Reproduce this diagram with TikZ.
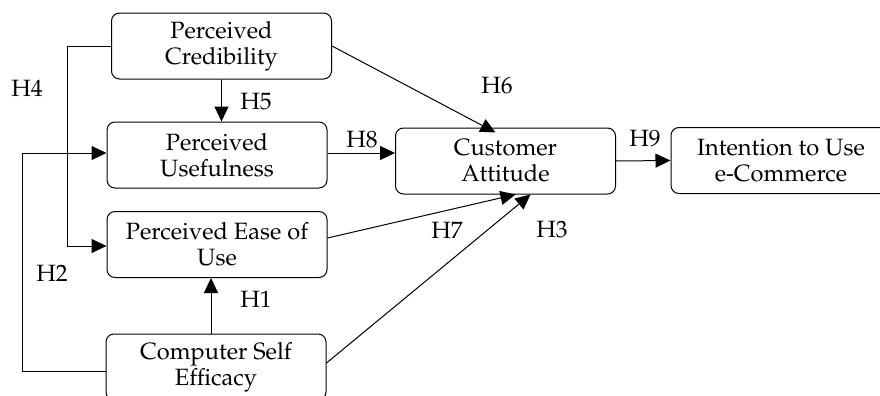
\documentclass[tikz,border=0pt]{standalone}
\usepackage[T1]{fontenc}
\usepackage{mathpazo}
\usetikzlibrary{arrows.meta}

\begin{document}
\begin{tikzpicture}[x=0.5pt,y=0.5pt,yscale=-1,xscale=1,
  box/.style={draw,rounded corners=4pt,line width=0.5pt,minimum width=110pt,minimum height=33pt,align=center,inner sep=1pt,font=\fontsize{11.8}{13}\selectfont},
  arr/.style={line width=0.5pt,-{Triangle[length=7.5pt,width=7pt]}},
  hlab/.style={inner sep=0pt,font=\fontsize{11.8}{13}\selectfont}]
\path[use as bounding box] (0,0) rectangle (880,396);

%Shape: Boxes
\node[box] (pc) at (221.5,46) {Perceived\\Credibility};
\node[box] (pu) at (217,155) {Perceived\\Usefulness};
\node[box] (poe) at (217,244.5) {Perceived Ease of\\Use};
\node[box] (cse) at (216,367) {Computer Self\\Efficacy};
\node[box] (att) at (505.5,161) {Customer\\Attitude};
\node[box] (itu) at (781,160.5) {Intention to Use\\e-Commerce};

%Straight Lines
\coordinate (h4) at (67,0);
\coordinate (h2) at (22,0);
\draw[arr] (pc.west) -- (pc.west -| h4) |- ([yshift=0.75pt]poe.west);
\draw[arr] ([yshift=2pt]cse.west) -- ([yshift=2pt]cse.west -| h2) |- ([yshift=-1pt]pu.west);
\draw[arr] (pc.south) -- (pc.south |- pu.north);
\draw[arr] ([xshift=-2.5pt]cse.north) -- ([xshift=-2.5pt]cse.north |- poe.south);
\draw[arr] ([yshift=-1pt]pu.east) -- ([yshift=-1pt]pu.east -| att.west);
\draw[arr] (pc.east) -- ([xshift=-5pt,yshift=2.5pt]att.north);
\draw[arr] ([yshift=-3.25pt]poe.east) -- ([xshift=5pt]att.south);
\draw[arr] ([yshift=-2pt]cse.east) -- ([xshift=12.5pt]att.south);
\draw[arr] (att.east) -- (itu.west);

% Text Node
\node[hlab] (l4) at (27,88) {H4};
\node[hlab] (l2) at (52,273) {H2};
\node[hlab] (l5) at (256,102) {H5};
\node[hlab] (l1) at (256,299) {H1};
\node[hlab] (l8) at (362,140) {H8};
\node[hlab] (l6) at (497,86) {H6};
\node[hlab] (l7) at (447,230) {H7};
\node[hlab] (l3) at (552,230) {H3};
\node[hlab] (l9) at (645,139) {H9};

\end{tikzpicture}
\end{document}
